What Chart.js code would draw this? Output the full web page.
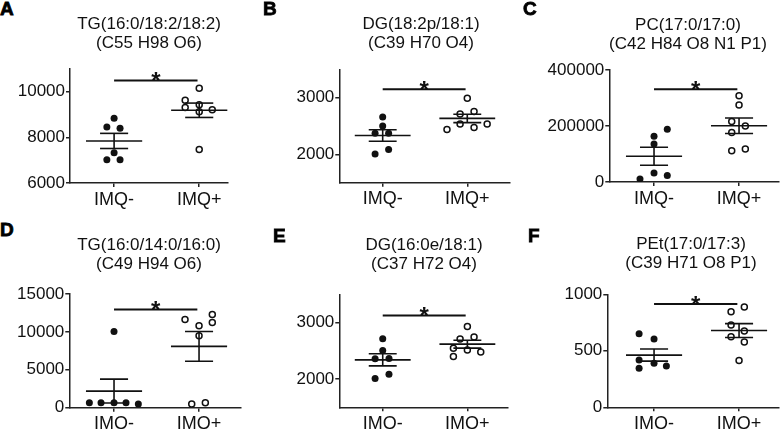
<!DOCTYPE html>
<html><head><meta charset="utf-8">
<script src="https://cdn.jsdelivr.net/npm/chart.js@4.4.1/dist/chart.umd.min.js"></script>
<style>
html,body{margin:0;padding:0;background:#fff;width:782px;height:429px;overflow:hidden;position:relative}
canvas{position:absolute}
.lbl{position:absolute;font:bold 19px 'Liberation Sans',Arial,sans-serif;line-height:19px;color:#000;-webkit-text-stroke:0.8px #000}
</style></head><body>
<script>
const categories = ['IMQ-', 'IMQ+'];
const panelLetters = ['A', 'B', 'C', 'D', 'E', 'F'];

// Panel A
const titleA = ['TG(16:0/18:2/18:2)', '(C55 H98 O6)'];
const ticksA = [6000, 8000, 10000];
const negA = [8840, 8460, 8400, 7330, 7020, 7020];
const posA = [10160, 9630, 9310, 9430, 9120, 9210, 7470];
const negJitA = [0, -0.085, 0.07, 0, -0.085, 0.07];
const posJitA = [0, -0.165, -0.165, 0, 0, 0.153, 0];
const sigA = 10500;

// Panel B
const titleB = ['DG(18:2p/18:1)', '(C39 H70 O4)'];
const ticksB = [2000, 3000];
const negB = [2660, 2500, 2370, 2370, 2005, 2085];
const posB = [2990, 2710, 2755, 2440, 2535, 2475, 2535];
const negJitB = [0, 0, -0.09, 0.07, -0.09, 0.07];
const posJitB = [0, -0.085, 0.08, -0.24, -0.085, 0.08, 0.235];
const sigB = 3150;

// Panel C
const titleC = ['PC(17:0/17:0)', '(C42 H84 O8 N1 P1)'];
const ticksC = [0, 200000, 400000];
const negC = [188000, 163000, 136000, 11000, 32000, 23000];
const posC = [308000, 275000, 216000, 200000, 177000, 112000, 118000];
const negJitC = [0.156, 0, 0, -0.165, 0, 0.156];
const posJitC = [0, 0, -0.086, 0.074, -0.086, -0.086, 0.074];
const sigC = 331000;

// Panel D
const titleD = ['TG(16:0/14:0/16:0)', '(C49 H94 O6)'];
const ticksD = [0, 5000, 10000, 15000];
const negD = [10050, 650, 650, 650, 650, 500];
const posD = [11650, 12300, 11250, 10800, 9500, 500, 650];
const negJitD = [0, -0.29, -0.153, 0, 0.141, 0.286];
const posJitD = [-0.165, 0.156, 0.156, 0, 0, -0.086, 0.074];
const sigD = 12950;

// Panel E
const titleE = ['DG(16:0e/18:1)', '(C37 H72 O4)'];
const ticksE = [2000, 3000];
const negE = [2715, 2505, 2360, 2365, 2010, 2085];
const posE = [2930, 2710, 2745, 2545, 2515, 2480, 2400];
const negJitE = [0, 0, -0.09, 0.074, -0.09, 0.074];
const posJitE = [0, -0.086, 0.079, -0.165, 0, 0.158, -0.165];
const sigE = 3125;

// Panel F
const titleF = ['PEt(17:0/17:3)', '(C39 H71 O8 P1)'];
const ticksF = [0, 500, 1000];
const negF = [650, 604, 419, 389, 345, 365];
const posF = [888, 846, 728, 676, 625, 578, 415];
const negJitF = [-0.176, 0, -0.176, 0, -0.176, 0.145];
const posJitF = [0.062, -0.094, -0.094, 0.062, -0.094, 0.062, 0];
const sigF = 914;

// ---- layout (positions / sizes, page pixels) ----
const layouts = [
  {L:0,   T:0,   W:298, H:215, left:70,    right:228, top:69,    bottom:183,   padTop:15,   xmin:0.482, xmax:2.338, ymin:6000, ymax:11000, letter:[0,-1]},
  {L:270, T:0,   W:302, H:215, left:339.3, right:510, top:69.3,  bottom:182.7, padTop:15,   xmin:0.487, xmax:2.505, ymin:1500, ymax:3500,  letter:[263,-1]},
  {L:540, T:0,   W:296, H:215, left:609.3, right:779, top:70,    bottom:182,   padTop:16,   xmin:0.474, xmax:2.47,  ymin:0,    ymax:400000,letter:[523,-1]},
  {L:0,   T:215, W:298, H:214, left:69.3,  right:240.7,top:294,  bottom:407.7, padTop:20.5, xmin:0.474, xmax:2.49,  ymin:0,    ymax:15000, letter:[0,219.5]},
  {L:270, T:215, W:308, H:214, left:339.3, right:508, top:294.3, bottom:407.3, padTop:20.5, xmin:0.487, xmax:2.48,  ymin:1500, ymax:3500,  letter:[273,225.5]},
  {L:540, T:215, W:302, H:214, left:607.3, right:779, top:294.3, bottom:407.3, padTop:20.2, xmin:0.45,  xmax:2.47,  ymin:0,    ymax:1000,  letter:[528,225.5]}
];

const panels = [
  {title:titleA, ticks:ticksA, neg:negA, pos:posA, negJ:negJitA, posJ:posJitA, sig:sigA},
  {title:titleB, ticks:ticksB, neg:negB, pos:posB, negJ:negJitB, posJ:posJitB, sig:sigB},
  {title:titleC, ticks:ticksC, neg:negC, pos:posC, negJ:negJitC, posJ:posJitC, sig:sigC},
  {title:titleD, ticks:ticksD, neg:negD, pos:posD, negJ:negJitD, posJ:posJitD, sig:sigD},
  {title:titleE, ticks:ticksE, neg:negE, pos:posE, negJ:negJitE, posJ:posJitE, sig:sigE},
  {title:titleF, ticks:ticksF, neg:negF, pos:posF, negJ:negJitF, posJ:posJitF, sig:sigF}
];

Chart.defaults.font.family = "'Liberation Sans', Arial, sans-serif";
Chart.defaults.color = '#111';

const INK = '#111';
const LINE_H = 19;
const MEAN_HW = 0.33, CAP_HW = 0.165;

function stats(arr) {
  const n = arr.length;
  const m = arr.reduce((a, b) => a + b, 0) / n;
  const sd = Math.sqrt(arr.reduce((a, b) => a + (b - m) * (b - m), 0) / (n - 1));
  return {m, sem: sd / Math.sqrt(n)};
}

function seg(x1, y1, x2, y2, w) {
  return {data: [{x: x1, y: y1}, {x: x2, y: y2}], showLine: true, pointRadius: 0,
          borderColor: INK, borderWidth: w, fill: false, order: 0};
}

function meanSem(vals, cx) {
  const s = stats(vals);
  return [
    seg(cx - MEAN_HW, s.m, cx + MEAN_HW, s.m, 1.6),
    seg(cx - CAP_HW, s.m + s.sem, cx + CAP_HW, s.m + s.sem, 1.6),
    seg(cx - CAP_HW, s.m - s.sem, cx + CAP_HW, s.m - s.sem, 1.6),
    seg(cx, s.m - s.sem, cx, s.m + s.sem, 1.6)
  ];
}

const starPlugin = {
  id: 'sigStar',
  afterDatasetsDraw(chart, args, opts) {
    const {ctx} = chart;
    const x = chart.scales.x, y = chart.scales.y;
    ctx.save();
    ctx.font = "bold 24px 'Liberation Sans', Arial, sans-serif";
    ctx.fillStyle = INK;
    ctx.textAlign = 'center';
    ctx.textBaseline = 'alphabetic';
    ctx.fillText(opts.text, x.getPixelForValue(opts.xv), y.getPixelForValue(opts.yv) + 8.5);
    ctx.restore();
  }
};

panels.forEach((p, i) => {
  const g = layouts[i];
  const lab = document.createElement('div');
  lab.className = 'lbl';
  lab.style.left = g.letter[0] + 'px';
  lab.style.top = g.letter[1] + 'px';
  lab.textContent = panelLetters[i];
  document.body.appendChild(lab);

  const cv = document.createElement('canvas');
  cv.width = g.W; cv.height = g.H;
  cv.style.left = g.L + 'px'; cv.style.top = g.T + 'px';
  cv.style.width = g.W + 'px'; cv.style.height = g.H + 'px';
  document.body.appendChild(cv);

  const yW = g.left - g.L;
  const rightPad = g.L + g.W - g.right;
  const xH = g.T + g.H - g.bottom;
  const padBottom = (g.top - g.T) - g.padTop - 2 * LINE_H;

  const datasets = [
    seg(1, p.sig, 1.98, p.sig, 2),
    ...meanSem(p.neg, 1),
    ...meanSem(p.pos, 2),
    {data: p.neg.map((v, k) => ({x: 1 + p.negJ[k], y: v})), showLine: false,
     pointRadius: 3.5, pointBackgroundColor: INK, pointBorderColor: INK, pointBorderWidth: 0, order: 1},
    {data: p.pos.map((v, k) => ({x: 2 + p.posJ[k], y: v})), showLine: false,
     pointRadius: 3.0, pointBackgroundColor: 'rgba(255,255,255,0)', pointBorderColor: INK, pointBorderWidth: 1.5, order: 1}
  ];

  new Chart(cv, {
    type: 'scatter',
    data: {datasets},
    plugins: [starPlugin],
    options: {
      responsive: false, animation: false, events: [],
      devicePixelRatio: 1,
      layout: {padding: 0},
      plugins: {
        legend: {display: false}, tooltip: {enabled: false},
        title: {display: true, text: p.title, color: INK, fullSize: true,
                font: {size: 17, weight: 'normal', lineHeight: LINE_H + 'px'},
                padding: {top: g.padTop, bottom: padBottom}},
        sigStar: {text: '*', xv: 1.49, yv: p.sig}
      },
      scales: {
        x: {type: 'linear', position: 'bottom', min: g.xmin, max: g.xmax,
            afterBuildTicks: s => { s.ticks = [{value: 1}, {value: 2}]; },
            afterFit: s => { s.height = xH; },
            ticks: {callback: v => categories[Math.round(v) - 1], font: {size: 18}, color: INK, padding: 2, autoSkip: false, maxRotation: 0},
            grid: {drawOnChartArea: false, drawTicks: true, tickLength: 4, color: '#222', lineWidth: 1.5},
            border: {display: true, color: '#222', width: 1.5}},
        y: {type: 'linear', position: 'left', min: g.ymin, max: g.ymax,
            afterBuildTicks: s => { s.ticks = p.ticks.map(v => ({value: v})); },
            afterFit: s => { s.width = yW; },
            ticks: {callback: v => String(v), font: {size: 17}, color: INK, padding: 1},
            grid: {drawOnChartArea: false, drawTicks: true, tickLength: 4, color: '#222', lineWidth: 1.5},
            border: {display: true, color: '#222', width: 1.5}},
        yR: {type: 'linear', position: 'right', display: true,
            afterFit: s => { s.width = rightPad; },
            ticks: {display: false}, grid: {display: false}, border: {display: false}}
      }
    }
  });
});
</script></body></html>
